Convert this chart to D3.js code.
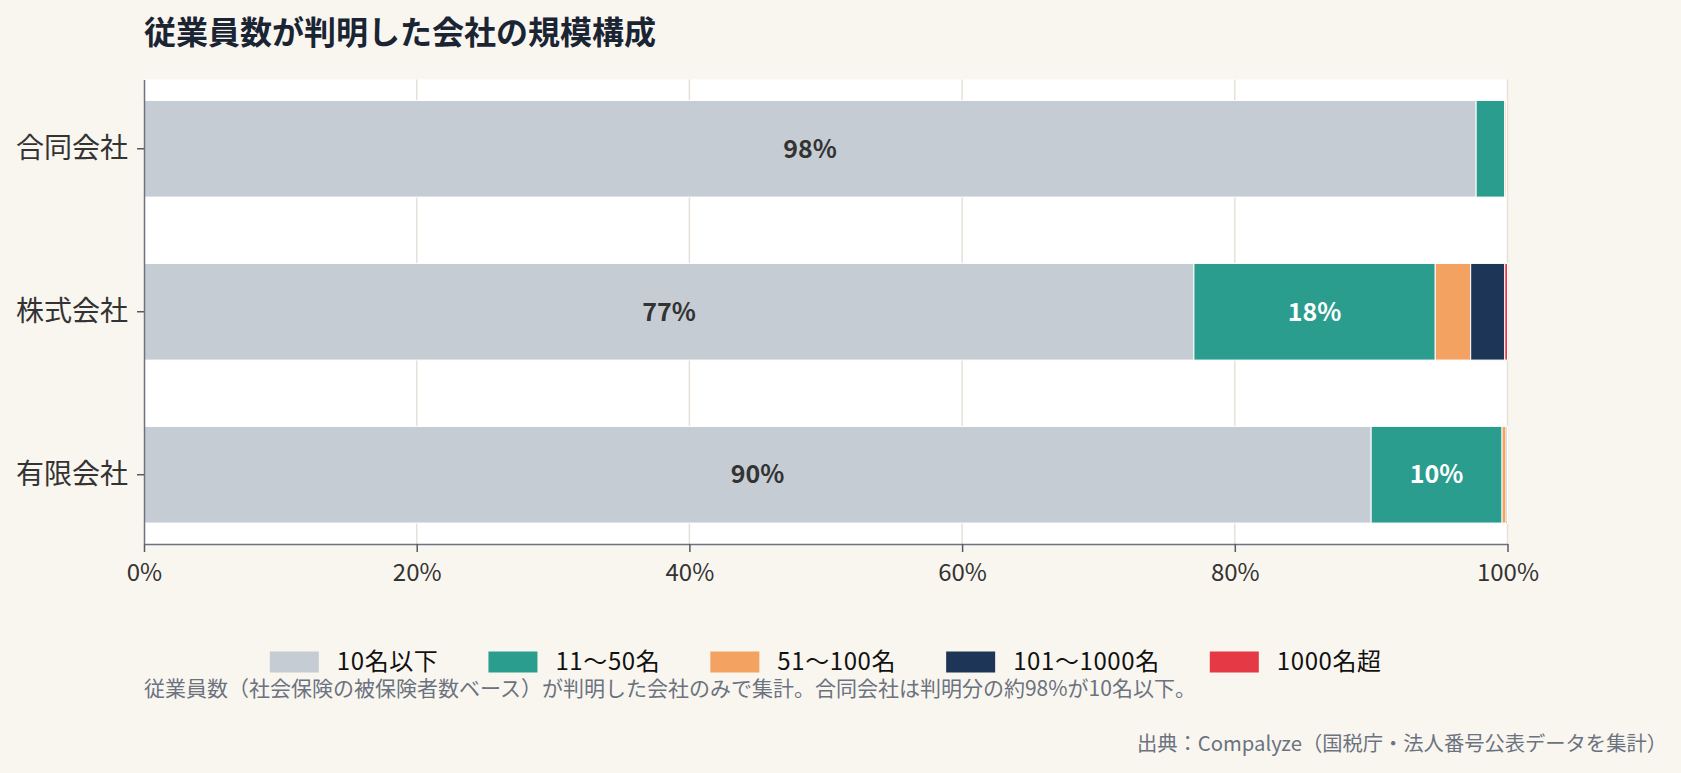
<!DOCTYPE html>
<html>
<head>
<meta charset="utf-8">
<script src="https://cdn.jsdelivr.net/npm/d3@7"></script>
<style>
  html, body { margin: 0; padding: 0; background: #f9f6ef; }
  svg { display: block; }
  text { font-family: "Noto Sans CJK JP", "Noto Sans", sans-serif; }
</style>
</head>
<body>
<svg id="chart" width="1681" height="773"></svg>
<script>
// 会社形態と従業員規模
const categories = ['合同会社', '株式会社', '有限会社']
const sizeLabels = ['10名以下', '11〜50名', '51〜100名', '101〜1000名', '1000名超']

// 各規模の割合（%）: categories の順
const upTo10 = [97.7, 77.0, 90.0]
const from11to50 = [2.1, 17.7, 9.6]
const from51to100 = [0.1, 2.6, 0.3]
const from101to1000 = [0.03, 2.5, 0.08]
const over1000 = [0.0, 0.2, 0.02]

const xTicks = [0, 20, 40, 60, 80, 100]
const colors = ['#c5ccd4', '#2a9d8f', '#f4a261', '#1d3557', '#e63946']
const labelColors = ['#333333', '#ffffff', '#ffffff', '#ffffff', '#ffffff']

const title = '従業員数が判明した会社の規模構成'
const note = '従業員数（社会保険の被保険者数ベース）が判明した会社のみで集計。合同会社は判明分の約98%が10名以下。'
const source = '出典：Compalyze（国税庁・法人番号公表データを集計）'

const series = [upTo10, from11to50, from51to100, from101to1000, over1000]
const rows = categories.map((c, i) => {
  const row = { category: c }
  sizeLabels.forEach((s, j) => { row[s] = series[j][i] })
  return row
})

const plot = { left: 144, right: 1507.5, top: 79.5, bottom: 544 }

const svg = d3.select('#chart')

const x = d3.scaleLinear().domain([0, 100]).range([plot.left, plot.right])
const y = d3.scaleBand().domain(categories).range([plot.top, plot.bottom])
  .paddingInner(0.407).paddingOuter(0.1285)

// plot background
svg.append('rect')
  .attr('x', plot.left).attr('y', plot.top)
  .attr('width', plot.right - plot.left).attr('height', plot.bottom - plot.top)
  .attr('fill', '#ffffff')

// grid
svg.append('g')
  .selectAll('line')
  .data(xTicks.filter(d => d > 0))
  .enter()
  .append('line')
  .attr('x1', d => x(d)).attr('x2', d => x(d))
  .attr('y1', plot.top).attr('y2', plot.bottom)
  .attr('stroke', '#e6e1d8')
  .attr('stroke-width', 1.5)

// bars
const stacked = d3.stack().keys(sizeLabels)(rows)

const layers = svg.append('g')
  .selectAll('g')
  .data(stacked)
  .enter()
  .append('g')
  .attr('fill', (d, i) => colors[i])

layers.selectAll('rect')
  .data(d => d)
  .enter()
  .append('rect')
  .attr('x', p => x(p[0]))
  .attr('y', p => y(p.data.category))
  .attr('width', p => Math.max(0, x(p[1]) - x(p[0])))
  .attr('height', y.bandwidth())
  .attr('stroke', '#ffffff')
  .attr('stroke-width', 1)

// value labels (5%以上のみ)
layers.each(function(layer, i) {
  d3.select(this).selectAll('text')
    .data(layer.filter(p => p[1] - p[0] >= 5))
    .enter()
    .append('text')
    .attr('x', p => x((p[0] + p[1]) / 2))
    .attr('y', p => y(p.data.category) + y.bandwidth() / 2)
    .attr('dy', '0.35em')
    .attr('text-anchor', 'middle')
    .attr('font-size', 25)
    .attr('font-weight', 700)
    .attr('fill', labelColors[i])
    .text(p => Math.round(p[1] - p[0]) + '%')
})

// axes
const xAxis = svg.append('g')
  .attr('transform', `translate(0,${plot.bottom})`)
  .call(d3.axisBottom(x).tickValues(xTicks).tickFormat(d => d + '%')
    .tickSize(8).tickSizeOuter(0).tickPadding(12))
const yAxis = svg.append('g')
  .attr('transform', `translate(${plot.left},0)`)
  .call(d3.axisLeft(y).tickSize(7).tickSizeOuter(0).tickPadding(9))

;[xAxis, yAxis].forEach(a => {
  a.select('.domain').attr('stroke', '#6b7280').attr('stroke-width', 1.5)
  a.selectAll('.tick line').attr('stroke', '#555b64').attr('stroke-width', 1.5)
  a.selectAll('.tick text').attr('fill', '#333333').style('font-family', '"Noto Sans CJK JP", sans-serif')
})
xAxis.selectAll('.tick text').attr('font-size', 24)
yAxis.selectAll('.tick text').attr('font-size', 28)

// title
svg.append('text')
  .attr('x', plot.left).attr('y', 44)
  .attr('font-size', 32)
  .attr('font-weight', 700)
  .attr('fill', '#1a2433')
  .text(title)

// legend
const legend = svg.append('g')
const items = legend.selectAll('g')
  .data(sizeLabels)
  .enter()
  .append('g')
items.append('rect')
  .attr('width', 49).attr('height', 21)
  .attr('y', -10.5)
  .attr('fill', (d, i) => colors[i])
items.append('text')
  .attr('x', 67).attr('dy', '0.35em')
  .attr('font-size', 24)
  .attr('letter-spacing', 0.6)
  .attr('fill', '#111111')
  .text(d => d)
let cx = 0
items.each(function() {
  const w = 67 + d3.select(this).select('text').node().getComputedTextLength()
  d3.select(this).attr('transform', `translate(${cx},0)`)
  cx += w + 50
})
const legendWidth = cx - 50
legend.attr('transform', `translate(${(plot.left + plot.right) / 2 - legendWidth / 2},662)`)

// note
svg.append('text')
  .attr('x', plot.left).attr('y', 696)
  .attr('font-size', 21)
  .attr('fill', '#6b7280')
  .text(note)

// source
svg.append('text')
  .attr('x', 1667).attr('y', 751)
  .attr('text-anchor', 'end')
  .attr('font-size', 20.3)
  .attr('fill', '#6b7280')
  .text(source)
</script>
</body>
</html>
